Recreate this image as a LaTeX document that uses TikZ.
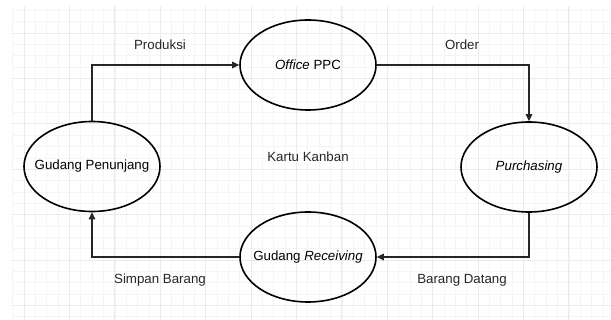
\documentclass[tikz,border=0pt]{standalone}
\usepackage{fontspec}
\setmainfont{Liberation Sans}
\usepackage{tikz}
\usetikzlibrary{arrows.meta, shapes.geometric, positioning}

\begin{document}
\begin{tikzpicture}[x=1pt, y=-1pt,
        font=\fontsize{13.3}{16}\selectfont,
        proses/.style={ellipse, draw=black, line width=1.6pt, minimum width=136pt, minimum height=90pt, inner xsep=-10pt, inner ysep=0pt},
        alur/.style={draw=black!85, line width=1.1pt, -{Triangle[length=7pt, width=6.5pt]}},
        keterangan/.style={text=black!85}]
                        \useasboundingbox (0, 0) rectangle (611, 320);
                        % grid latar
                        \foreach \x in {12.65, 24, ..., 611} {
                            \draw[black!4, line width=0.6pt] (\x, 6) -- (\x, 320);
                        }
                        \foreach \y in {10.3, 21.65, ..., 320} {
                            \draw[black!4, line width=0.6pt] (12, \y) -- (611, \y);
                        }
                        \foreach \x in {24, 69.4, ..., 611} {
                            \draw[black!8, line width=0.7pt] (\x, 6) -- (\x, 320);
                        }
                        \foreach \y in {33, 78.4, ..., 320} {
                            \draw[black!8, line width=0.7pt] (12, \y) -- (611, \y);
                        }

                        \node[proses] (ppc) at (308, 65) {\textit{Office} PPC};
                        \node[proses] (penunjang) at (92, 166.5) {Gudang Penunjang};
                        \node[proses] (purchasing) at (529, 167) {\textit{Purchasing}};
                        \node[proses] (receiving) at (308, 257) {Gudang \textit{Receiving}};

                        \node[keterangan] (produksi) at (160, 45) {Produksi};
                        \node[keterangan] (order) at (462, 45) {Order};
                        \node[keterangan] (kanban) at (308, 157) {Kartu Kanban};
                        \node[keterangan] (datang) at (462, 280) {Barang Datang};
                        \node[keterangan] (simpan) at (160, 280) {Simpan Barang};

                        \draw[alur] (penunjang.north) |- (ppc.west);
                        \draw[alur] (ppc.east) -| (purchasing.north);
                        \draw[alur] (purchasing.south) |- (receiving.east);
                        \draw[alur] (receiving.west) -| (penunjang.south);
                    \end{tikzpicture}
\end{document}
